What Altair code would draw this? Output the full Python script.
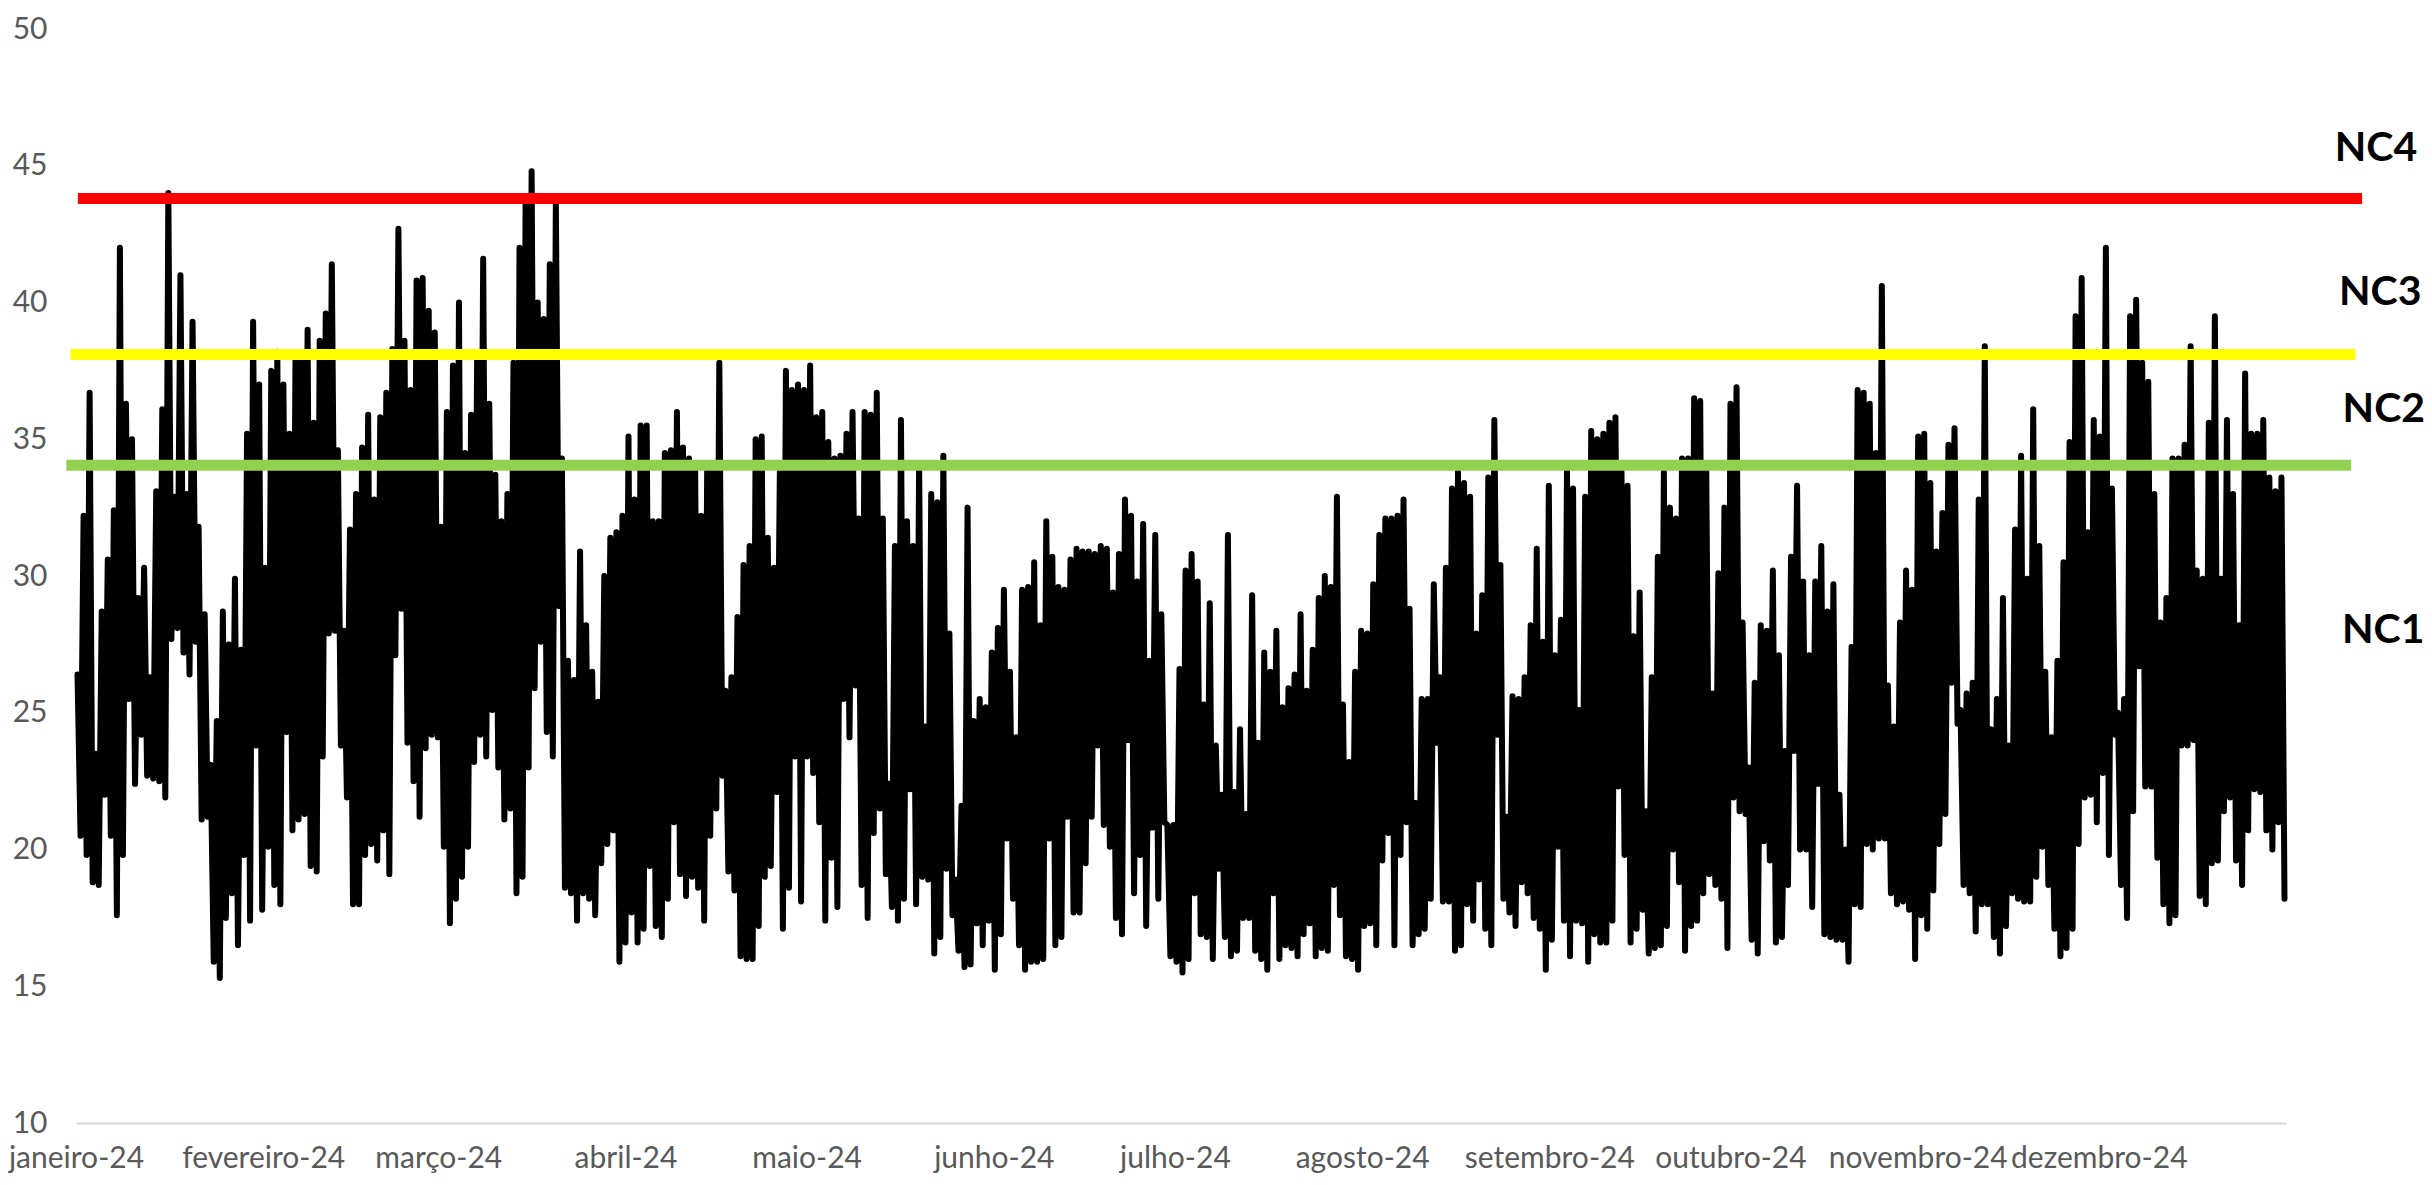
import json
import altair as alt
import pandas as pd

# ---- axis tick labels (x axis is day-of-year 2024) ----
month_starts = [0, 31, 60, 91, 121, 152, 182, 213, 244, 274, 305, 335]
month_labels = ["janeiro-24", "fevereiro-24", "março-24", "abril-24", "maio-24", "junho-24",
                "julho-24", "agosto-24", "setembro-24", "outubro-24", "novembro-24", "dezembro-24"]
y_ticks = [10, 15, 20, 25, 30, 35, 40, 45, 50]

# ---- daily peak / trough readings ----
hi_jan_feb = [26.4, 32.2, 36.7, 23.5, 28.7, 30.6, 32.4, 42.0, 36.3, 35.0,
              29.2, 30.3, 26.3, 33.1, 36.1, 44.0, 32.9, 41.0, 33.0, 39.3,
              31.8, 28.6, 23.1, 24.7, 28.7, 27.5, 29.9, 27.3, 35.2, 39.3,
              37.0, 30.3, 37.5, 38.2, 37.0, 35.2, 37.9, 37.9, 39.0, 35.6,
              38.6, 39.6, 41.4, 34.6, 28.0, 31.7, 33.0, 34.7, 35.9, 32.8,
              35.8, 36.7, 38.3, 42.7, 38.6, 36.8, 40.8, 40.9, 39.7, 38.9]
lo_jan_feb = [20.5, 19.8, 18.8, 18.7, 22.0, 20.5, 17.6, 19.8, 25.5, 22.4,
              24.2, 22.7, 22.6, 22.5, 21.9, 27.7, 28.1, 27.2, 26.4, 27.6,
              21.1, 21.2, 15.9, 15.3, 17.5, 18.4, 16.5, 19.8, 17.4, 23.8,
              17.8, 20.1, 18.7, 18.0, 24.3, 20.7, 21.1, 21.3, 19.4, 19.2,
              23.4, 27.9, 28.0, 23.8, 21.9, 18.0, 18.0, 19.8, 20.2, 19.6,
              20.7, 19.1, 27.1, 28.8, 23.9, 22.5, 21.2, 23.7, 24.2, 24.1]

hi_mar_apr = [31.8, 36.0, 37.7, 40.0, 34.5, 35.9, 37.9, 41.6, 36.3,
              33.7, 32.0, 33.0, 37.8, 42.0, 43.6, 44.8, 40.0, 39.4, 41.4,
              43.6, 34.3, 26.9, 26.2, 30.9, 28.2, 26.5, 25.4, 30.0, 31.4,
              31.6, 32.2, 35.1, 32.8, 35.5, 35.5, 32.0, 32.0, 34.5, 34.6,
              36.0, 34.7, 34.3, 34.1, 32.2, 34.1, 34.1, 37.8, 25.8, 26.3,
              28.5, 30.4, 31.1, 35.0, 35.1, 31.4, 30.3, 33.9, 37.5, 36.8,
              37.0, 36.8, 37.7]
lo_mar_apr = [20.1, 17.3, 18.2, 19.0, 20.1, 23.2, 24.2, 23.4, 25.1,
              23.0, 21.1, 21.5, 18.4, 19.0, 23.0, 25.9, 27.6, 24.3, 23.4,
              28.9, 18.6, 18.4, 17.4, 18.4, 18.2, 17.6, 19.5, 20.2, 20.7,
              15.9, 16.6, 17.7, 16.6, 17.1, 19.4, 17.2, 16.8, 18.2, 21.0,
              19.1, 18.3, 19.0, 18.6, 17.4, 20.5, 21.5, 22.7, 19.2, 18.5,
              16.1, 16.0, 16.0, 17.2, 19.0, 19.4, 22.1, 17.1, 18.6, 23.4,
              18.1, 23.4, 22.8]

hi_may_jun = [35.8, 36.0, 34.9, 34.3, 34.4, 35.2, 36.0, 32.1, 36.0, 35.9,
              36.7, 32.1, 22.4, 31.1, 35.7, 32.0, 31.1, 34.1, 24.5, 33.0,
              32.7, 34.4, 27.9, 18.9, 21.6, 32.5, 24.7, 25.5, 25.2, 27.2,
              28.1, 29.5, 26.5, 24.1, 29.5, 29.6, 30.5, 28.2, 32.0, 30.7,
              29.6, 29.5, 30.6, 31.0, 30.9, 30.9, 30.8, 31.1, 31.0, 29.4,
              30.8, 32.8, 32.2, 29.8, 31.9, 26.9, 31.5, 28.6, 20.9, 20.9,
              26.6]
lo_may_jun = [21.0, 17.4, 19.7, 17.9, 25.5, 24.1, 26.0, 18.7, 17.5, 20.6,
              21.5, 19.1, 17.9, 17.4, 18.2, 22.2, 18.0, 19.0, 18.9, 16.2,
              16.8, 19.3, 17.6, 16.3, 15.7, 15.8, 17.3, 16.5, 17.4, 15.6,
              16.9, 20.4, 18.2, 16.5, 15.6, 15.9, 15.9, 16.0, 20.4, 16.5,
              16.8, 21.2, 17.7, 17.7, 19.5, 21.2, 23.8, 20.9, 20.1, 17.5,
              16.9, 24.0, 18.4, 19.8, 17.2, 20.8, 18.2, 21.0, 16.1, 15.9,
              15.5]

hi_jul_aug = [30.2, 30.8, 29.8, 25.3, 29.0, 23.8, 22.0, 31.5, 22.1, 24.4,
              21.3, 29.3, 23.9, 27.2, 26.5, 28.0, 25.2, 25.9, 26.4, 28.6,
              25.8, 27.3, 29.2, 30.0, 29.6, 32.9, 25.3, 23.2, 26.5, 28.0,
              27.9, 29.7, 31.5, 32.1, 32.1, 32.2, 32.8, 28.8, 21.7, 25.5,
              25.5, 29.7, 26.3, 30.3, 33.2, 33.8, 33.4, 32.9, 27.9, 29.3,
              33.6, 35.7, 30.4, 21.2, 25.6, 25.5, 26.3, 28.2, 31.0, 27.6,
              33.3]
lo_jul_aug = [16.0, 18.4, 16.9, 16.8, 16.0, 19.3, 16.8, 16.1, 16.3, 17.5,
              17.5, 16.3, 16.0, 15.6, 18.4, 16.0, 16.5, 16.4, 16.1, 16.9,
              17.3, 16.1, 16.4, 16.3, 18.7, 17.6, 16.1, 16.0, 15.6, 17.2,
              17.3, 16.5, 19.6, 20.6, 16.5, 19.8, 21.0, 16.5, 16.9, 17.1,
              18.2, 23.9, 18.1, 18.1, 16.3, 16.5, 18.0, 17.4, 18.9, 17.1,
              16.5, 24.2, 18.2, 17.7, 17.2, 18.8, 18.4, 17.5, 17.1, 15.6,
              16.7]

hi_sep_oct = [27.1, 28.4, 33.9, 33.2, 25.1, 32.9, 35.3, 35.0, 35.2, 35.6,
              35.8, 33.8, 33.3, 27.8, 29.4, 21.4, 26.3, 30.7, 33.8, 32.5,
              32.1, 34.3, 34.3, 36.5, 36.4, 33.9, 25.7, 30.1, 32.5, 36.3,
              36.9, 28.3, 23.0, 26.1, 28.2, 28.0, 30.2, 27.1, 23.6, 30.7,
              33.3, 29.8, 27.1, 29.8, 31.1, 28.7, 29.7, 22.0, 20.0, 27.4,
              36.8, 36.7, 36.3, 34.5, 40.6, 26.0, 24.5, 28.3, 30.2, 29.5,
              35.1]
lo_sep_oct = [20.1, 17.4, 16.1, 17.4, 17.3, 15.9, 16.9, 16.6, 16.6, 17.4,
              22.3, 19.8, 16.6, 17.1, 17.8, 16.2, 16.4, 16.5, 17.2, 20.0,
              18.8, 16.3, 17.2, 17.4, 18.4, 19.1, 18.7, 18.2, 16.4, 21.9,
              21.4, 21.3, 16.7, 16.2, 20.3, 19.6, 16.6, 16.8, 18.7, 23.6,
              20.0, 20.0, 17.9, 22.4, 16.9, 16.8, 16.7, 16.7, 15.9, 18.0,
              17.9, 20.2, 20.0, 20.4, 20.4, 18.4, 18.0, 18.1, 17.8, 16.0,
              17.6]

hi_nov_dec = [35.2, 33.4, 30.9, 32.3, 34.8, 35.4, 25.1, 25.7, 26.1, 32.8,
              38.4, 24.4, 25.5, 29.2, 23.8, 31.7, 34.4, 29.9, 36.1, 31.1,
              26.5, 24.1, 26.9, 30.5, 34.9, 39.5, 40.9, 31.6, 35.7, 35.1,
              42.0, 33.2, 25.0, 25.5, 39.5, 40.1, 37.8, 37.1, 33.0, 28.3,
              29.2, 34.3, 34.3, 34.8, 38.4, 30.2, 29.9, 35.6, 39.5, 29.9,
              35.7, 33.0, 28.2, 37.4, 35.2, 35.2, 35.7, 33.6, 33.1, 33.6]
lo_nov_dec = [17.1, 18.5, 20.2, 21.3, 26.1, 24.6, 18.7, 18.4, 17.0, 18.0,
              18.0, 16.8, 16.2, 17.2, 18.4, 18.2, 18.1, 18.1, 19.0, 20.1,
              18.7, 17.1, 16.1, 16.4, 17.1, 20.2, 21.9, 22.0, 21.0, 22.8,
              19.8, 24.2, 18.7, 17.5, 21.4, 26.7, 22.3, 22.3, 19.7, 18.0,
              17.3, 17.6, 23.8, 23.8, 24.0, 18.3, 18.0, 19.5, 19.6, 21.4,
              21.9, 19.6, 18.7, 20.7, 22.2, 22.1, 20.7, 20.0, 21.0, 18.2]

# ---- class limits (reference lines) and their labels ----
ref_values = [43.8, 38.1, 34.05]
ref_colors = ["#FF0000", "#FFFF00", "#92D050"]
ref_start_day = [0.3, -0.9, -1.6]
ref_end_day = [378.6, 377.5, 376.8]

nc_text = ["NC4", "NC3", "NC2", "NC1"]
nc_value = [45.18, 39.92, 35.64, 27.55]
nc_day = [380.9, 381.6, 382.2, 382.1]

# ---- build tables ----
hi_all = hi_jan_feb + hi_mar_apr + hi_may_jun + hi_jul_aug + hi_sep_oct + hi_nov_dec
lo_all = lo_jan_feb + lo_mar_apr + lo_may_jun + lo_jul_aug + lo_sep_oct + lo_nov_dec
n = len(hi_all)
step = 366.0 / n
rows = []
for i, (h, l) in enumerate(zip(hi_all, lo_all)):
    rows.append({"t": (i + 0.25) * step, "v": h})
    rows.append({"t": (i + 0.75) * step, "v": l})
series = pd.DataFrame(rows)

refs = pd.DataFrame({"v": ref_values, "c": ref_colors, "t": ref_start_day, "t2": ref_end_day})
labels = pd.DataFrame({"label": nc_text, "v": nc_value, "t": nc_day})

FONT = "Lato"
label_expr = f"{json.dumps(month_labels, ensure_ascii=False)}[indexof({json.dumps(month_starts)}, datum.value)]"

x_scale = alt.Scale(domain=[0, 366], nice=False, zero=False)
y_scale = alt.Scale(domain=[10, 50], nice=False, zero=False)

x_main = alt.X("t:Q", scale=x_scale, axis=alt.Axis(
    values=month_starts, labelExpr=label_expr, title=None, grid=False,
    ticks=False, tickSize=0, domain=True, domainColor="#D9D9D9", domainWidth=2,
    labelFont=FONT, labelFontSize=30, labelColor="#595959", labelPadding=44,
    labelBaseline="alphabetic", labelAlign="center", labelFlush=False, labelOverlap=False))
y_main = alt.Y("v:Q", scale=y_scale, axis=alt.Axis(
    values=y_ticks, title=None, grid=False, ticks=False, tickSize=0, domain=False,
    labelFont=FONT, labelFontSize=30, labelColor="#595959", labelPadding=29,
    labelFlush=False, labelOverlap=False))

line = alt.Chart(series).mark_line(
    color="black", strokeWidth=6, strokeJoin="round", strokeCap="round"
).encode(x=x_main, y=y_main)

rules = alt.Chart(refs).mark_rule(strokeWidth=11, strokeCap="butt").encode(
    x=alt.X("t:Q", scale=x_scale),
    x2=alt.X2("t2:Q"),
    y=alt.Y("v:Q", scale=y_scale),
    color=alt.Color("c:N", scale=None),
)

texts = alt.Chart(labels).mark_text(
    font=FONT, fontSize=41, fontWeight="bold", color="black",
    align="center", baseline="alphabetic"
).encode(
    x=alt.X("t:Q", scale=x_scale),
    y=alt.Y("v:Q", scale=y_scale),
    text="label:N",
)

chart = alt.layer(line, rules, texts).properties(
    width=2210, height=1094,
    autosize=alt.AutoSizeParams(type="none"),
    padding={"left": 68, "top": 21, "right": 138, "bottom": 53},
).configure_view(stroke=None)

chart.save("out.html", embed_options={"renderer": "svg", "actions": False})
